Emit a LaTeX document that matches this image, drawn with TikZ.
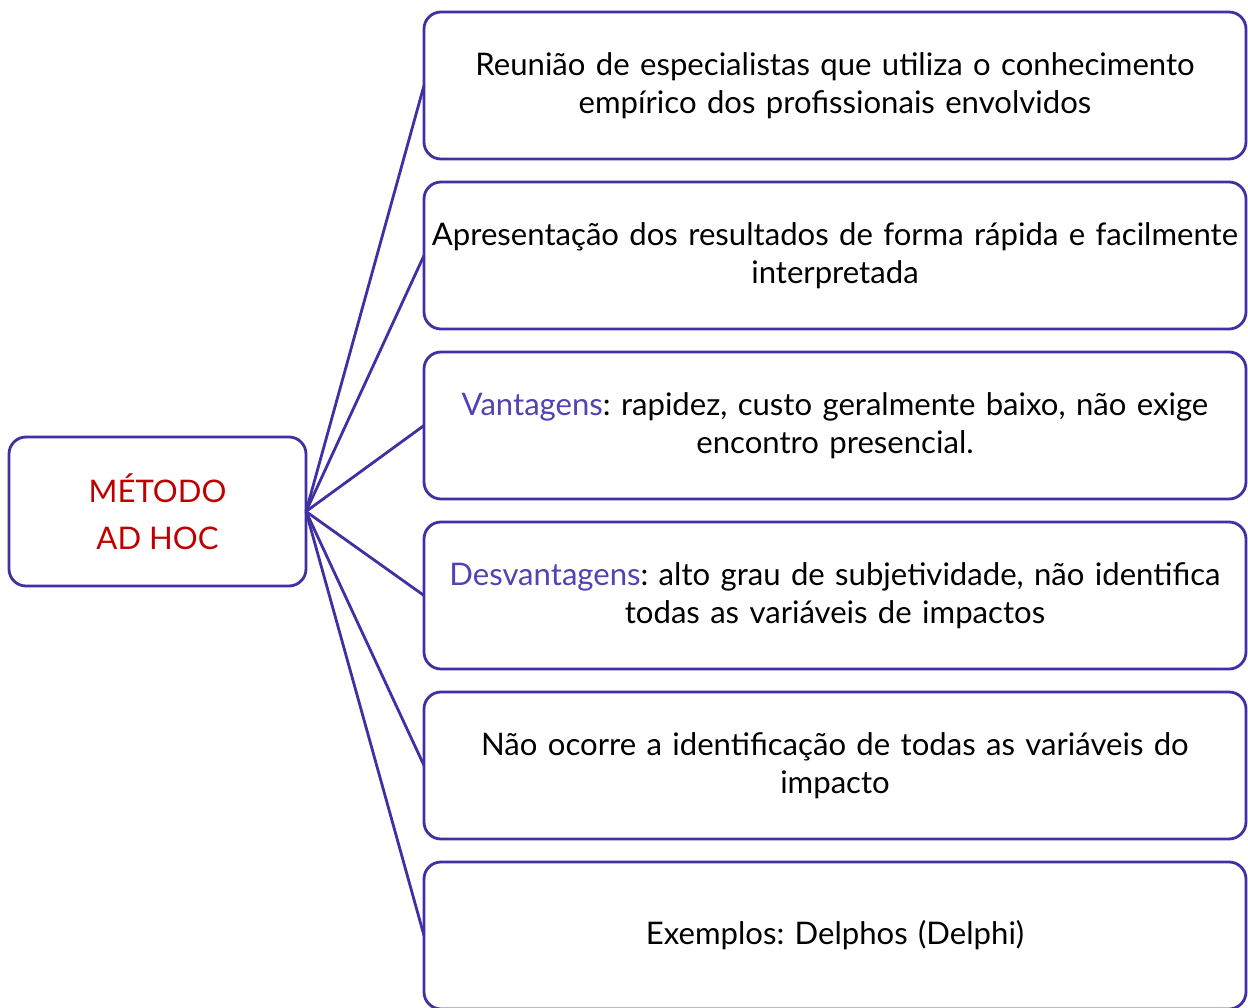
\documentclass[tikz,border=0pt]{standalone}
\usepackage{fontspec}
\setmainfont{Lato}
\usetikzlibrary{positioning}
\definecolor{linha}{RGB}{63,49,163}
\definecolor{destaque}{RGB}{82,66,178}
\definecolor{titulo}{RGB}{192,0,0}
\tikzset{
	caixa/.style={draw=linha, line width=1.6pt, rounded corners=0.34cm, align=center,
		minimum width=16.44cm, minimum height=2.94cm, text width=16.3cm, inner sep=0pt,
		outer sep=0pt, font=\fontsize{17.7}{21.6}\selectfont\frenchspacing},
	metodo/.style={draw=linha, line width=1.6pt, rounded corners=0.34cm, align=center,
		minimum width=5.94cm, minimum height=2.98cm, inner sep=0pt, outer sep=0pt,
		text=titulo, font=\fontsize{17.7}{26.8}\selectfont},
	ramo/.style={draw=linha, line width=1.6pt}
}
\begin{document}
\begin{tikzpicture}

		\useasboundingbox (0, 0) rectangle (24.96, 20.14);

		\node[metodo] (m) at(3.15, 9.91){MÉTODO\\AD HOC};

		\node[caixa] (r1) at(16.70, 18.43){Reunião de especialistas que utiliza o conhecimento\\empírico dos profissionais envolvidos};
		\node[caixa, below=0.46cm of r1] (r2){Apresentação dos resultados de forma rápida e facilmente\\interpretada};
		\node[caixa, below=0.46cm of r2] (r3){\textcolor{destaque}{Vantagens}: rapidez, custo geralmente baixo, não exige\\encontro presencial.};
		\node[caixa, below=0.46cm of r3] (r4){\textcolor{destaque}{Desvantagens}: alto grau de subjetividade, não identifica\\todas as variáveis de impactos};
		\node[caixa, below=0.46cm of r4] (r5){Não ocorre a identificação de todas as variáveis do\\impacto};
		\node[caixa, below=0.46cm of r5] (r6){Exemplos: Delphos (Delphi)};

		\foreach \r in {r1, r2, r3, r4, r5, r6}
			\draw[ramo] (m.east) to (\r.west);

	\end{tikzpicture}
\end{document}
